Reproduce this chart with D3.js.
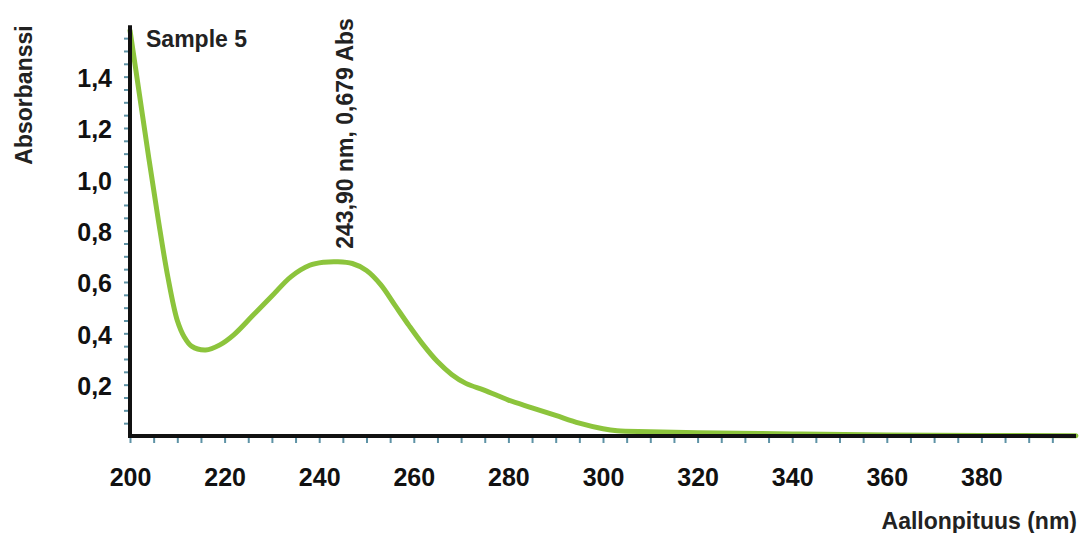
<!DOCTYPE html>
<html>
<head>
<meta charset="utf-8">
<script src="https://cdn.jsdelivr.net/npm/d3@7"></script>
<style>
  html, body { margin: 0; padding: 0; background: #fff; }
  svg { display: block; font-family: "Liberation Sans", Arial, sans-serif; }
</style>
</head>
<body>
<svg id="chart" width="1083" height="533"></svg>
<script>
// ---- data ----
const wavelengths = [200, 202, 204, 206, 208, 210, 211.5, 213, 216, 219, 222, 226, 230, 234, 238, 241, 243.9, 247, 250, 253, 256, 259, 262, 265, 268, 271, 275, 280, 285, 290, 295, 300, 303, 310, 320, 340, 360, 380, 400];
const absorbance  = [1.58, 1.33, 1.08, 0.84, 0.62, 0.45, 0.385, 0.35, 0.335, 0.355, 0.395, 0.47, 0.545, 0.62, 0.665, 0.677, 0.679, 0.672, 0.645, 0.59, 0.51, 0.43, 0.355, 0.29, 0.24, 0.205, 0.178, 0.14, 0.11, 0.08, 0.05, 0.028, 0.02, 0.017, 0.013, 0.008, 0.004, 0.002, 0.001];
const xTickLabels = [200, 220, 240, 260, 280, 300, 320, 340, 360, 380];
const yTickLabels = [0.2, 0.4, 0.6, 0.8, 1.0, 1.2, 1.4];
const xMinorTicks = d3.range(200, 400, 5);
const yMinorTicks = d3.range(0.05, 1.56, 0.05);
const seriesName = "Sample 5";
const peakLabel = "243,90 nm, 0,679 Abs";
const xTitle = "Aallonpituus (nm)";
const yTitle = "Absorbanssi";

// ---- layout ----
const svg = d3.select("#chart");
const x = d3.scaleLinear().domain([200, 400]).range([130, 1076]);
const y = d3.scaleLinear().domain([0, 1.6]).range([436, 25.3]);
const fmt = v => d3.format(".1f")(v).replace(".", ",");
const tickColor = "#5f93a6";

// x minor ticks
const gx = svg.append("g").attr("transform", `translate(0,${y(0)})`)
  .call(d3.axisBottom(x).tickValues(xMinorTicks).tickSize(7).tickFormat(""));
gx.select(".domain").remove();
gx.selectAll(".tick line").attr("stroke", tickColor).attr("stroke-width", 2);

// y minor ticks
const gy = svg.append("g").attr("transform", `translate(${x(200)},0)`)
  .call(d3.axisLeft(y).tickValues(yMinorTicks).tickSize(6).tickFormat(""));
gy.select(".domain").remove();
gy.selectAll(".tick line").attr("stroke", tickColor).attr("stroke-width", 2);

// x labels
const gxl = svg.append("g").attr("transform", `translate(0,${y(0)})`)
  .call(d3.axisBottom(x).tickValues(xTickLabels).tickSize(0).tickPadding(32).tickFormat(d3.format("d")));
gxl.select(".domain").remove();
gxl.selectAll("text").attr("font-size", 25).attr("font-weight", "bold").attr("fill", "#111")
  .attr("font-family", "Liberation Sans, Arial, sans-serif");

// y labels
const gyl = svg.append("g").attr("transform", `translate(${x(200)},0)`)
  .call(d3.axisLeft(y).tickValues(yTickLabels).tickSize(0).tickPadding(18).tickFormat(fmt));
gyl.select(".domain").remove();
gyl.selectAll("text").attr("font-size", 25).attr("font-weight", "bold").attr("fill", "#111")
  .attr("font-family", "Liberation Sans, Arial, sans-serif").attr("dy", "0.4em");

// curve
const data = wavelengths.map((w, i) => ({ w, a: absorbance[i] }));
const line = d3.line().x(d => x(d.w)).y(d => y(d.a)).curve(d3.curveCatmullRom.alpha(0.5));
svg.append("path").datum(data)
  .attr("d", line)
  .attr("fill", "none")
  .attr("stroke", "#8cc43c")
  .attr("stroke-width", 5)
  .attr("stroke-linejoin", "round")
  .attr("stroke-linecap", "round");

// axis lines
svg.append("line").attr("x1", x(200)).attr("x2", x(200)).attr("y1", y(1.6)).attr("y2", y(0) + 2)
  .attr("stroke", "#111").attr("stroke-width", 4);
svg.append("line").attr("x1", x(200) - 2).attr("x2", x(400)).attr("y1", y(0)).attr("y2", y(0))
  .attr("stroke", "#111").attr("stroke-width", 4);

// texts
svg.append("text").attr("x", 146).attr("y", 47).text(seriesName)
  .attr("font-size", 23).attr("font-weight", "bold").attr("fill", "#222");

svg.append("text")
  .attr("transform", `translate(${x(243.9) + 15},${y(0.679) - 13}) rotate(-90)`)
  .text(peakLabel)
  .attr("font-size", 23).attr("font-weight", "bold").attr("fill", "#222");

svg.append("text")
  .attr("transform", `translate(32,95) rotate(-90)`)
  .attr("text-anchor", "middle")
  .text(yTitle)
  .attr("font-size", 23).attr("font-weight", "bold").attr("fill", "#222");

svg.append("text").attr("x", 1077).attr("y", 529).attr("text-anchor", "end").text(xTitle)
  .attr("font-size", 23).attr("font-weight", "bold").attr("fill", "#222");
</script>
</body>
</html>
